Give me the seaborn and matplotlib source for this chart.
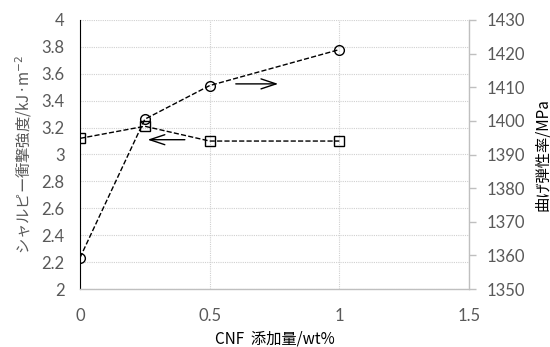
import matplotlib
matplotlib.use("Agg")
import matplotlib.pyplot as plt
import seaborn as sns
import pandas as pd
from matplotlib.ticker import FuncFormatter, MultipleLocator

cnf = [0, 0.25, 0.5, 1.0]
charpy = [3.12, 3.21, 3.10, 3.10]
modulus = [1359.3, 1400.5, 1410.5, 1421.2]

sns.set_theme(style="white")
plt.rcParams['font.family'] = ['Lato', 'Noto Sans CJK JP', 'DejaVu Sans']

fig = plt.figure(figsize=(5.5, 3.47), dpi=100)
ax = fig.add_axes([80/550, 1-289/347, (469-80)/550, (289-20)/347])
ax2 = ax.twinx()

df = pd.DataFrame({"cnf": cnf, "charpy": charpy, "modulus": modulus})

sns.lineplot(data=df, x="cnf", y="charpy", ax=ax, color="black", linestyle="--",
             linewidth=1.0, marker="s", markersize=7, markerfacecolor="none",
             markeredgecolor="black", markeredgewidth=1.0, zorder=5)
sns.lineplot(data=df, x="cnf", y="modulus", ax=ax2, color="black", linestyle="--",
             linewidth=1.0, marker="o", markersize=7, markerfacecolor="none",
             markeredgecolor="black", markeredgewidth=1.0, zorder=5)

ax.set_xlim(0, 1.5)
ax.set_ylim(2, 4)
ax2.set_ylim(1350, 1430)
ax.xaxis.set_major_locator(MultipleLocator(0.5))
ax.yaxis.set_major_locator(MultipleLocator(0.2))
ax2.yaxis.set_major_locator(MultipleLocator(10))
fmt = FuncFormatter(lambda v, p: f"{v:g}")
ax.xaxis.set_major_formatter(fmt)
ax.yaxis.set_major_formatter(fmt)
ax2.yaxis.set_major_formatter(FuncFormatter(lambda v, p: f"{v:.0f}"))

grid_color = "#d0d0d0"
ax.grid(True, which="major", axis="both", color=grid_color, linestyle=(0, (1, 1)), linewidth=0.8)
ax.set_axisbelow(True)

for a in (ax, ax2):
    for s in a.spines.values():
        s.set_visible(False)
ax.spines["left"].set_visible(True)
ax.spines["left"].set_color("black")
ax.spines["left"].set_linestyle((0, (1, 1)))
ax.spines["left"].set_linewidth(0.8)
ax.spines["bottom"].set_visible(True)
ax.spines["bottom"].set_color("#bfbfbf")
ax.spines["bottom"].set_linewidth(1.0)
ax2.spines["right"].set_visible(True)
ax2.spines["right"].set_color("#bfbfbf")
ax2.spines["right"].set_linewidth(1.0)

tick_color = "#595959"
ax.tick_params(axis="y", which="both", length=0, labelsize=12, labelcolor=tick_color, pad=11)
ax.tick_params(axis="x", which="both", length=0, labelsize=12, labelcolor=tick_color, pad=14)
ax2.tick_params(axis="y", length=5, width=1.0, color="#bfbfbf", direction="out",
                labelsize=12, labelcolor=tick_color, pad=8)

ax.set_xlabel("CNF  添加量/wt%", fontsize=11, color="black",
              family=['Noto Sans CJK JP', 'DejaVu Sans'], labelpad=4)
ax.set_ylabel("シャルピー衝撃強度/kJ·m$^{-2}$", fontsize=11, color=tick_color,
              family=['Noto Sans CJK JP', 'DejaVu Sans'])
ax2.set_ylabel("曲げ弾性率/MPa", fontsize=11, color="black",
               family=['Noto Sans CJK JP', 'DejaVu Sans'])
ax.yaxis.set_label_coords(-0.118, 0.5)
ax2.yaxis.set_label_coords(1.168, 0.5)

# arrows indicating axis
ax.annotate("", xy=(0.25, 3.11), xytext=(0.415, 3.11),
            arrowprops=dict(arrowstyle="->,head_length=0.6,head_width=0.2", color="black", lw=1.0, mutation_scale=18))
ax2.annotate("", xy=(0.775, 1411), xytext=(0.59, 1411),
             arrowprops=dict(arrowstyle="->,head_length=0.6,head_width=0.2", color="black", lw=1.0, mutation_scale=18))

fig.savefig("out.png", dpi=100)
